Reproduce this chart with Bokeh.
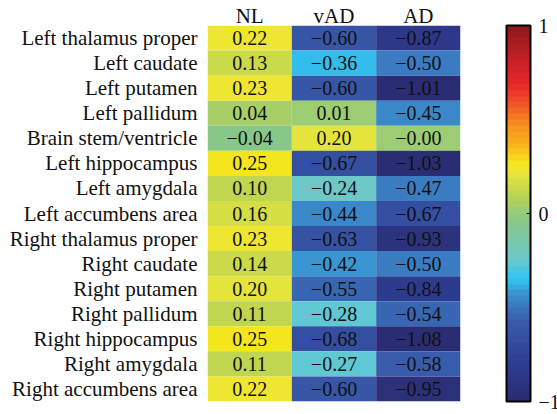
import numpy as np
from bokeh.plotting import figure
from bokeh.models import ColumnDataSource, LinearColorMapper, ColorBar, FixedTicker
from bokeh.transform import transform
from bokeh.core.properties import value
from bokeh.embed import file_html
from bokeh.resources import INLINE

regions = ["Left thalamus proper", "Left caudate", "Left putamen", "Left pallidum",
           "Brain stem/ventricle", "Left hippocampus", "Left amygdala", "Left accumbens area",
           "Right thalamus proper", "Right caudate", "Right putamen", "Right pallidum",
           "Right hippocampus", "Right amygdala", "Right accumbens area"]
groups = ["NL", "vAD", "AD"]
nl = [0.22, 0.13, 0.23, 0.04, -0.04, 0.25, 0.10, 0.16, 0.23, 0.14, 0.20, 0.11, 0.25, 0.11, 0.22]
vad = [-0.60, -0.36, -0.60, 0.01, 0.20, -0.67, -0.24, -0.44, -0.63, -0.42, -0.55, -0.28, -0.68, -0.27, -0.60]
ad = [-0.87, -0.50, -1.01, -0.45, -0.00, -1.03, -0.47, -0.67, -0.93, -0.50, -0.84, -0.54, -1.08, -0.58, -0.95]

# colour scale anchors (position in [-1, 1], hex colour)
anchors = [(-1.0, "#2a2d73"), (-0.8, "#2e3f96"), (-0.6, "#3858a8"), (-0.5, "#3a78c0"),
           (-0.43, "#3a95d2"), (-0.35, "#30c6f2"), (-0.25, "#6cc8cc"), (-0.12, "#7ec8a0"),
           (-0.04, "#88c888"), (0.0, "#96cb7a"), (0.1, "#bcd452"), (0.16, "#d0dc48"),
           (0.22, "#eae63a"), (0.27, "#f4e51e"),
           (0.37, "#f8b41c"), (0.47, "#f7941d"), (0.58, "#f05a28"), (0.7, "#e8262a"),
           (0.85, "#c02026"), (1.0, "#8e1a1e")]

def hex2rgb(h):
    return [int(h[i:i + 2], 16) for i in (1, 3, 5)]

pos = np.array([a[0] for a in anchors])
rgb = np.array([hex2rgb(a[1]) for a in anchors], dtype=float)
steps = np.linspace(-1, 1, 64)
palette = []
for s in steps:
    c = [int(round(np.interp(s, pos, rgb[:, k]))) for k in range(3)]
    palette.append("#%02x%02x%02x" % tuple(c))

xs, ys, vals, labels = [], [], [], []
for g, series in zip(groups, [nl, vad, ad]):
    for r, v in zip(regions, series):
        xs.append(g)
        ys.append(r)
        vals.append(v)
        labels.append(("%.2f" % v).replace("-", "\u2212"))
source = ColumnDataSource(dict(x=xs, y=ys, v=vals, label=labels))

mapper = LinearColorMapper(palette=palette, low=-1, high=1,
                           low_color=palette[0], high_color=palette[-1])

FONT = "Liberation Serif"
p = figure(frame_width=253, frame_height=376, x_range=groups, y_range=list(reversed(regions)),
           x_axis_location="above", output_backend="svg", toolbar_location=None,
           min_border_left=207, min_border_top=19, min_border_bottom=11,
           min_border_right=89, outline_line_color=None)

p.rect(x="x", y="y", width=1, height=1, source=source,
       fill_color=transform("v", mapper), line_color=None)
p.text(x="x", y="y", text="label", source=source, text_align="center",
       text_baseline="middle", text_font=value(FONT), text_font_size="20px",
       text_color="#111111")

for ax in (p.xaxis[0], p.yaxis[0]):
    ax.axis_line_color = None
    ax.major_tick_line_color = None
    ax.minor_tick_line_color = None
    ax.major_label_text_font = FONT
    ax.major_label_text_font_size = "21px"
    ax.major_label_text_color = "#111111"
p.xaxis.major_label_standoff = -8
p.yaxis.major_label_standoff = 4
p.xgrid.grid_line_color = None
p.ygrid.grid_line_color = None

cb = ColorBar(color_mapper=mapper, ticker=FixedTicker(ticks=[-1, 0, 1]),
              major_label_overrides={-1: "\u22121", 0: "0", 1: "1"},
              width=24, padding=0, margin=0, location=(46, 0),
              bar_line_color="black", bar_line_width=2,
              major_tick_line_color="black", major_tick_in=4, major_tick_out=0,
              label_standoff=8,
              major_label_text_font=FONT, major_label_text_font_size="20px",
              major_label_text_color="#111111")
p.add_layout(cb, "right")

open("out.html", "w").write(file_html(p, INLINE))
